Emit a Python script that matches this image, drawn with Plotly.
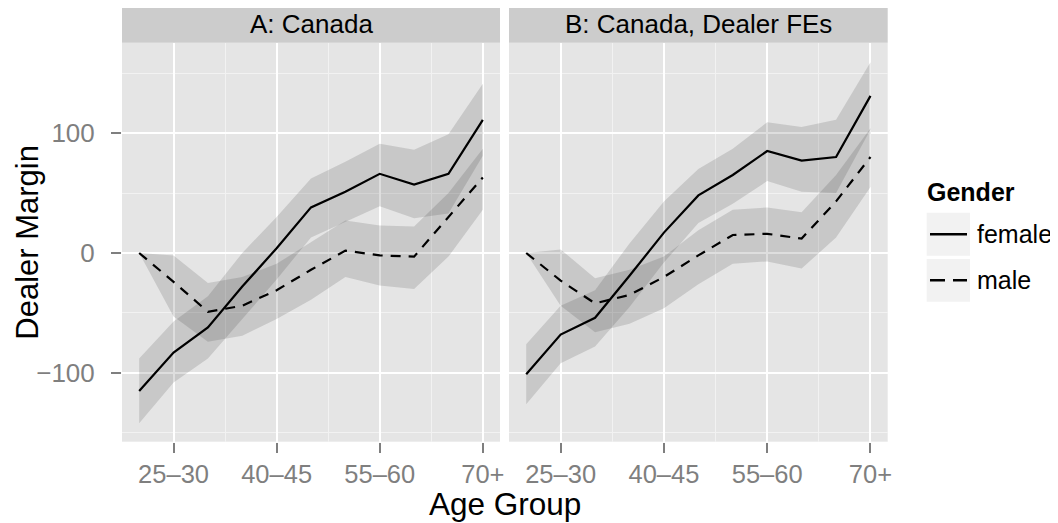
import plotly.graph_objects as go

W, H = 1058, 523
OFF = 8  # page body margin offset

age_groups = ["<25", "25–30", "30–35", "35–40", "40–45", "45–50",
              "50–55", "55–60", "60–65", "65–70", "70+"]
shown_ticks = ["25–30", "40–45", "55–60", "70+"]
y_ticks = [-100, 0, 100]
y_minor = [-150, -50, 50, 150]

# Panel A: Canada
a_female = [-115, -83, -62, -28, 4, 38, 51, 66, 57, 66, 111]
a_female_hi = [-88, -57, -36, 0, 30, 62, 76, 91, 86, 99, 141]
a_female_lo = [-142, -108, -88, -55, -22, 13, 26, 39, 29, 33, 81]
a_male = [0, -24, -49, -44, -31, -14, 2, -2, -3, 30, 63]
a_male_hi = [0, -2, -25, -20, -9, 9, 27, 23, 22, 50, 87]
a_male_lo = [0, -53, -74, -69, -55, -39, -20, -27, -30, -3, 36]

# Panel B: Canada, Dealer FEs
b_female = [-101, -68, -54, -19, 17, 48, 65, 85, 77, 80, 131]
b_female_hi = [-76, -44, -31, 8, 43, 70, 87, 109, 105, 111, 159]
b_female_lo = [-126, -92, -78, -45, -8, 25, 41, 60, 51, 50, 103]
b_male = [0, -23, -42, -35, -20, -2, 15, 16, 12, 43, 80]
b_male_hi = [0, 3, -21, -14, -3, 19, 36, 38, 34, 65, 104]
b_male_lo = [0, -44, -66, -59, -46, -26, -9, -7, -13, 13, 55]

panels = [
    ("A: Canada", a_female, a_female_hi, a_female_lo, a_male, a_male_hi, a_male_lo),
    ("B: Canada, Dealer FEs", b_female, b_female_hi, b_female_lo, b_male, b_male_hi, b_male_lo),
]

x = list(range(1, len(age_groups) + 1))
tickvals = [age_groups.index(t) + 1 for t in shown_ticks]
x_minor = [(tickvals[i] + tickvals[i + 1]) / 2 for i in range(len(tickvals) - 1)]

FONT = "Liberation Sans, Arial, sans-serif"
RIBBON = "rgba(51,51,51,0.16)"


def px(xp):
    return (xp - OFF) / W


def py(yp):
    return 1 - (yp - OFF) / H


panel_x = [(122, 500), (509, 887.7)]
panel_y = (42.7, 441.7)

fig = go.Figure()

for i, (title, f, fh, fl, m, mh, ml) in enumerate(panels):
    xa = "x" if i == 0 else "x2"
    ya = "y" if i == 0 else "y2"
    for hi, lo in ((fh, fl), (mh, ml)):
        fig.add_trace(go.Scatter(
            x=x + x[::-1], y=hi + lo[::-1], fill="toself", fillcolor=RIBBON,
            line=dict(width=0), mode="lines", hoverinfo="skip",
            showlegend=False, xaxis=xa, yaxis=ya))
    fig.add_trace(go.Scatter(x=x, y=f, mode="lines", name="female",
                             line=dict(color="black", width=2.2),
                             showlegend=False, xaxis=xa, yaxis=ya))
    fig.add_trace(go.Scatter(x=x, y=m, mode="lines", name="male",
                             line=dict(color="black", width=2.2, dash="10px,8px"),
                             showlegend=False, xaxis=xa, yaxis=ya))

xaxis_common = dict(
    range=[0.5, 11.5], tickvals=tickvals, ticktext=shown_ticks,
    showgrid=True, gridcolor="white", gridwidth=2,
    minor=dict(tickvals=x_minor, showgrid=True, gridcolor="#F2F2F2", gridwidth=1),
    ticks="outside", ticklen=10, tickwidth=2, tickcolor="#7F7F7F",
    tickfont=dict(family=FONT, size=25.5, color="#7F7F7F"),
    zeroline=False, showline=False, automargin=False,
)
yaxis_common = dict(
    range=[-157.3, 175.3], tickvals=y_ticks,
    showgrid=True, gridcolor="white", gridwidth=2,
    minor=dict(tickvals=y_minor, showgrid=True, gridcolor="#F2F2F2", gridwidth=1),
    zeroline=False, showline=False, automargin=False,
    domain=[py(panel_y[1]), py(panel_y[0])],
)

fig.update_layout(
    width=W, height=H, autosize=False,
    margin=dict(l=0, r=0, t=0, b=0),
    paper_bgcolor="white", plot_bgcolor="#E5E5E5",
    xaxis=dict(xaxis_common, domain=[px(panel_x[0][0]), px(panel_x[0][1])], anchor="y"),
    xaxis2=dict(xaxis_common, domain=[px(panel_x[1][0]), px(panel_x[1][1])], anchor="y2"),
    yaxis=dict(yaxis_common, anchor="x", ticks="outside", ticklen=10, tickwidth=2,
               tickcolor="#7F7F7F", ticklabelstandoff=11,
               tickfont=dict(family=FONT, size=26, color="#7F7F7F")),
    yaxis2=dict(yaxis_common, anchor="x2", matches="y", showticklabels=False, ticks=""),
    showlegend=False,
)

shapes = []
annotations = []
# strips
for i, (title, *_r) in enumerate(panels):
    x0, x1 = panel_x[i]
    shapes.append(dict(type="rect", xref="paper", yref="paper",
                       x0=px(x0), x1=px(x1), y0=py(42.7), y1=py(4),
                       fillcolor="#CCCCCC", line=dict(width=0), layer="below"))
    annotations.append(dict(text=title, xref="paper", yref="paper",
                            x=px((x0 + x1) / 2), y=py(24), showarrow=False,
                            xanchor="center", yanchor="middle",
                            font=dict(family=FONT, size=26, color="black")))

# axis titles
annotations.append(dict(text="Dealer Margin", xref="paper", yref="paper",
                        x=px(27.5), y=py((panel_y[0] + panel_y[1]) / 2), textangle=-90,
                        showarrow=False, xanchor="center", yanchor="middle",
                        font=dict(family=FONT, size=31, color="black")))
annotations.append(dict(text="Age Group", xref="paper", yref="paper",
                        x=px((panel_x[0][0] + panel_x[1][1]) / 2), y=py(504),
                        showarrow=False, xanchor="center", yanchor="middle",
                        font=dict(family=FONT, size=31.5, color="black")))

# legend
annotations.append(dict(text="<b>Gender</b>", xref="paper", yref="paper",
                        x=px(925), y=py(192), showarrow=False,
                        xanchor="left", yanchor="middle",
                        font=dict(family=FONT, size=25, color="black")))
legend_items = [("female", "solid", 212.7, 255.7), ("male", "15px,8px", 259, 301.7)]
for label, dash, y0, y1 in legend_items:
    shapes.append(dict(type="rect", xref="paper", yref="paper",
                       x0=px(926.7), x1=px(970), y0=py(y1), y1=py(y0),
                       fillcolor="#F2F2F2", line=dict(width=0)))
    yc = (y0 + y1) / 2
    shapes.append(dict(type="line", xref="paper", yref="paper",
                       x0=px(930), x1=px(967), y0=py(yc), y1=py(yc),
                       line=dict(color="black", width=2.5, dash=dash)))
    annotations.append(dict(text=label, xref="paper", yref="paper",
                            x=px(975), y=py(yc), showarrow=False,
                            xanchor="left", yanchor="middle",
                            font=dict(family=FONT, size=25, color="black")))

fig.update_layout(shapes=shapes, annotations=annotations)
fig.write_html("out.html")
